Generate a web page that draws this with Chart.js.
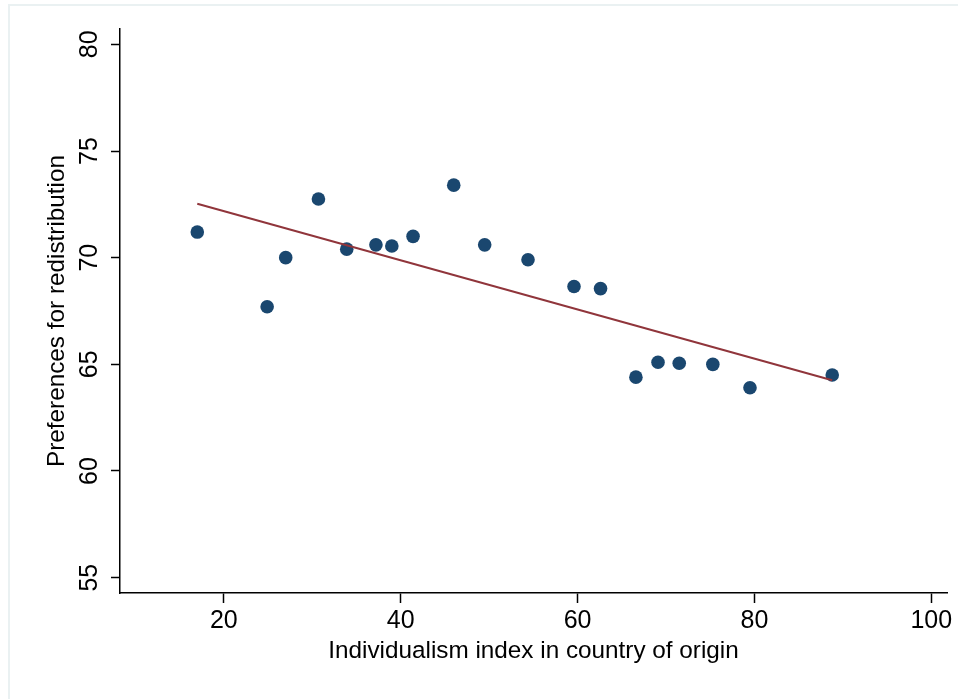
<!DOCTYPE html>
<html lang="en">
<head>
  <meta charset="UTF-8" />
  <title>Individualism vs preferences for redistribution</title>
  <script src="https://cdn.jsdelivr.net/npm/chart.js"></script>
  <style>
    html, body {
      margin: 0;
      padding: 0;
      background: #ffffff;
      overflow: hidden;
    }
    .wrap {
      position: relative;
      width: 958px;
      height: 699px;
    }
    .frame {
      position: absolute;
      left: 8px;
      top: 4px;
      width: 950px;
      height: 695px;
      border-top: 2px solid #eaf1f2;
      border-left: 2px solid #eaf1f2;
      pointer-events: none;
    }
  </style>
</head>
<body>
  <div class="wrap">
    <canvas id="scatter" width="958" height="699"></canvas>
    <div class="frame"></div>
  </div>

  <script>
    // values
    const individualism = [17.0, 24.9, 27.0, 30.7, 33.9, 37.2, 39.0, 41.4, 46.0, 49.5,
                           54.4, 59.6, 62.6, 66.6, 69.1, 71.5, 75.3, 79.5, 88.8];
    const redistribution = [71.2, 67.7, 70.0, 72.75, 70.4, 70.6, 70.55, 71.0, 73.4, 70.6,
                            69.9, 68.65, 68.55, 64.4, 65.1, 65.05, 65.0, 63.9, 64.5];
    // fitted line end points
    const fitX = [17.0, 88.8];
    const fitY = [72.53, 64.25];

    const xTicks = [20, 40, 60, 80, 100];
    const yTicks = [55, 60, 65, 70, 75, 80];

    const font = "'Liberation Sans', Arial, Helvetica, sans-serif";

    const points = individualism.map((x, i) => ({ x: x, y: redistribution[i] }));
    const fitLine = fitX.map((x, i) => ({ x: x, y: fitY[i] }));

    function keepTicks(list) {
      return scale => {
        scale.ticks = list.map(v => ({ value: v }));
      };
    }

    new Chart(document.getElementById("scatter"), {
      type: "scatter",
      data: {
        datasets: [
          {
            label: "Fitted values",
            type: "line",
            data: fitLine,
            borderColor: "#90353b",
            borderWidth: 2,
            pointRadius: 0,
            fill: false,
            order: 1
          },
          {
            label: "Countries",
            data: points,
            backgroundColor: "#1a476f",
            borderWidth: 0,
            pointRadius: 6.8,
            order: 2
          }
        ]
      },
      options: {
        responsive: false,
        animation: false,
        layout: {
          padding: { top: 29, right: 11, left: 0, bottom: 0 }
        },
        plugins: {
          legend: { display: false },
          tooltip: { enabled: false }
        },
        scales: {
          x: {
            type: "linear",
            min: 8.26,
            max: 101.78,
            afterBuildTicks: keepTicks(xTicks),
            afterFit: scale => { scale.height = 106; },
            grid: { drawOnChartArea: false, tickLength: 10, tickColor: "#000", tickWidth: 1.5 },
            border: { color: "#000", width: 1.5 },
            ticks: {
              color: "#000",
              padding: 3,
              font: { family: font, size: 25 }
            },
            title: {
              display: true,
              text: "Individualism index in country of origin",
              color: "#000",
              font: { family: font, size: 24.3 },
              padding: { top: 0, bottom: 33 }
            }
          },
          y: {
            type: "linear",
            min: 54.28,
            max: 80.72,
            afterBuildTicks: keepTicks(yTicks),
            afterFit: scale => { scale.width = 120; },
            grid: { drawOnChartArea: false, tickLength: 9, tickColor: "#000", tickWidth: 1.5 },
            border: { color: "#000", width: 1.5 },
            ticks: {
              color: "#000",
              padding: 7,
              minRotation: 90,
              maxRotation: 90,
              crossAlign: "center",
              font: { family: font, size: 25 }
            },
            title: {
              display: true,
              text: "Preferences for redistribution",
              color: "#000",
              font: { family: font, size: 24.3 },
              padding: { top: 43, bottom: 0 }
            }
          }
        }
      }
    });
  </script>
</body>
</html>
